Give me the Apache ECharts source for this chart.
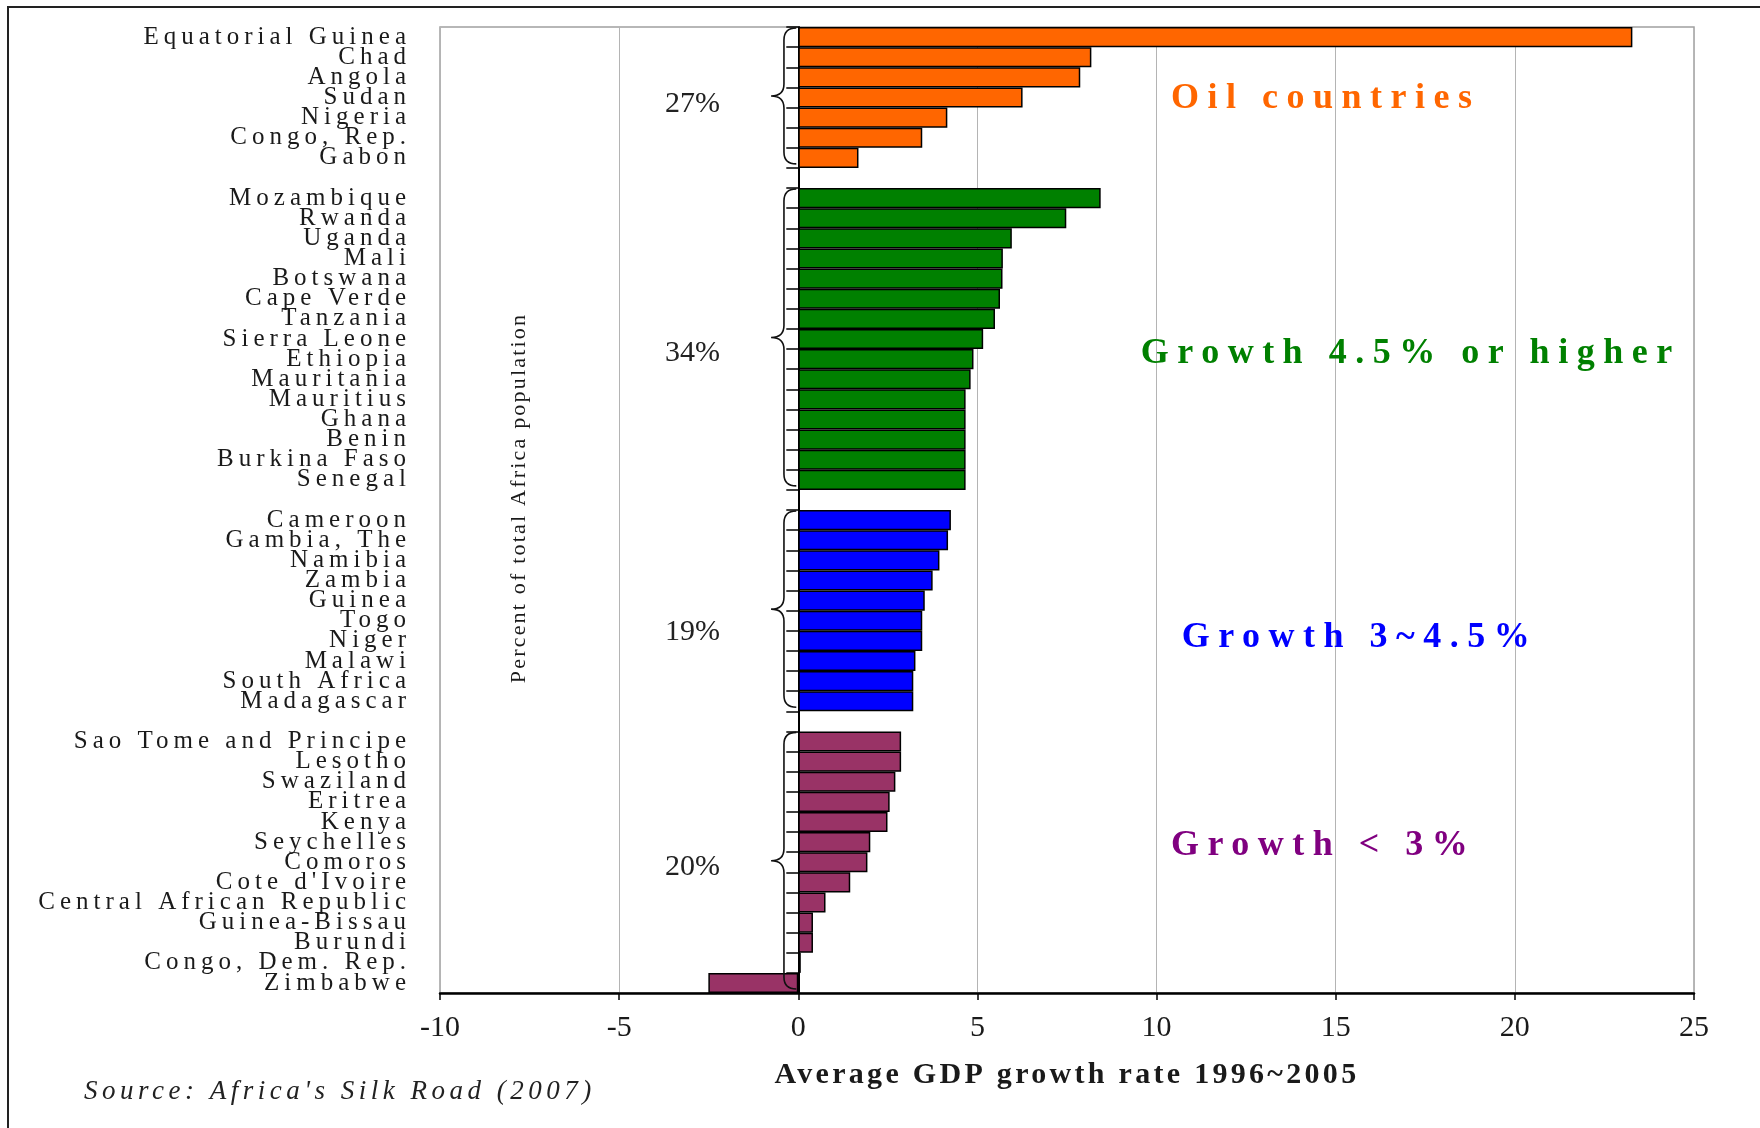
<!DOCTYPE html>
<html>
<head>
<meta charset="utf-8">
<title>Average GDP growth rate 1996~2005</title>
<script src="https://cdn.jsdelivr.net/npm/echarts@6.0.0/dist/echarts.min.js"></script>
<style>
  html, body { margin: 0; padding: 0; background: #fff; }
  #chart { width: 1760px; height: 1128px; }
</style>
</head>
<body>
<div id="chart"></div>
<script>
// groups of countries, top to bottom
const oilNames = ['Equatorial Guinea', 'Chad', 'Angola', 'Sudan', 'Nigeria', 'Congo, Rep.', 'Gabon']
const oilValues = [23.28, 8.18, 7.87, 6.26, 4.16, 3.46, 1.68]

const highNames = ['Mozambique', 'Rwanda', 'Uganda', 'Mali', 'Botswana', 'Cape Verde', 'Tanzania',
  'Sierra Leone', 'Ethiopia', 'Mauritania', 'Mauritius', 'Ghana', 'Benin', 'Burkina Faso', 'Senegal']
const highValues = [8.44, 7.48, 5.96, 5.71, 5.7, 5.63, 5.49, 5.16, 4.89, 4.81, 4.67, 4.67, 4.67, 4.67, 4.67]

const midNames = ['Cameroon', 'Gambia, The', 'Namibia', 'Zambia', 'Guinea', 'Togo', 'Niger',
  'Malawi', 'South Africa', 'Madagascar']
const midValues = [4.26, 4.18, 3.94, 3.75, 3.53, 3.46, 3.46, 3.27, 3.21, 3.21]

const lowNames = ['Sao Tome and Principe', 'Lesotho', 'Swaziland', 'Eritrea', 'Kenya', 'Seychelles',
  'Comoros', "Cote d'Ivoire", 'Central African Republic', 'Guinea-Bissau', 'Burundi',
  'Congo, Dem. Rep.', 'Zimbabwe']
const lowValues = [2.87, 2.87, 2.71, 2.55, 2.49, 2.01, 1.93, 1.45, 0.76, 0.41, 0.41, 0.07, -2.51]

const groupShares = ['27%', '34%', '19%', '20%']
const groupTitles = ['Oil countries', 'Growth 4.5% or higher', 'Growth 3~4.5%', 'Growth < 3%']

const xMin = -10
const xMax = 25
const xStep = 5

// styles
const FONT = '"Liberation Serif", "DejaVu Serif", serif'
const barColors = ['#FF6600', '#008000', '#0000FF', '#993366']
const titleColors = ['#FF6600', '#008000', '#0000FF', '#800080']
// the pdf print has very loose tracking: extra px between letters, by font size
const tracking = { 25: 5, 36: 8.5, 27: 4.5, 22: 2.2, bold30: 3.3 }
// where the notes sit: [x value, row] for the share and the group title
const shareLayout = [[-2.95, 3.35], [-2.95, 15.7], [-2.95, 29.55], [-2.95, 41.25]]
const titleLayout = [[10.4, 3.08], [9.56, 15.75], [10.7, 29.85], [10.4, 40.2]]

// canvas letter spacing, picked from the font the chart sets before each draw
const proto = CanvasRenderingContext2D.prototype
const drawText = proto.fillText
proto.fillText = function (text, x, y, maxW) {
  if ('letterSpacing' in this) {
    const m = /(\d+(?:\.\d+)?)px/.exec(this.font)
    const size = m ? Math.round(+m[1]) : 0
    const isBold = /bold|[6-9]00/.test(this.font)
    const sp = size === 30 ? (isBold ? tracking.bold30 : 0) : (tracking[size] || 0)
    this.letterSpacing = sp + 'px'
  }
  return maxW === undefined ? drawText.call(this, text, x, y) : drawText.call(this, text, x, y, maxW)
}

// build one category axis with a blank row between groups
const groups = [
  [oilNames, oilValues],
  [highNames, highValues],
  [midNames, midValues],
  [lowNames, lowValues]
]
const categories = []
const barData = []
const groupRanges = []
groups.forEach(([names, values], gi) => {
  if (gi > 0) {
    categories.push('')
    barData.push('-')
  }
  const start = categories.length
  names.forEach((n, i) => {
    categories.push(n)
    barData.push({ value: values[i], itemStyle: { color: barColors[gi] } })
  })
  groupRanges.push([0, start, categories.length - 1])
})

const chart = echarts.init(document.getElementById('chart'), null, { renderer: 'canvas' })

// brace, share and title for one group
const renderGroup = (params, api) => {
  const gi = params.dataIndex
  const start = api.value(1)
  const end = api.value(2)
  const y0 = api.coord([0, 0])[1]
  const band = api.coord([0, 1])[1] - y0
  const rowY = r => y0 + r * band
  const top = rowY(start) - band / 2 + 1
  const bot = rowY(end) + band / 2 - 4
  const mid = (top + bot) / 2
  const xe = api.coord([0, 0])[0] - 2
  const xs = api.coord([-0.4, 0])[0]
  const xt = api.coord([-0.76, 0])[0]
  const r = 12
  const d = `M${xe},${top} Q${xs},${top} ${xs},${top + r} L${xs},${mid - r} ` +
    `Q${xs},${mid} ${xt},${mid} Q${xs},${mid} ${xs},${mid + r} L${xs},${bot - r} ` +
    `Q${xs},${bot} ${xe},${bot}`
  const [sx, sr] = shareLayout[gi]
  const [tx, tr] = titleLayout[gi]
  return {
    type: 'group',
    children: [
      {
        type: 'path',
        shape: { pathData: d },
        style: { fill: 'none', stroke: '#111', lineWidth: 1.6 }
      },
      {
        type: 'text',
        x: api.coord([sx, 0])[0],
        y: rowY(sr),
        style: {
          text: groupShares[gi], fontFamily: FONT, fontSize: 30, fill: '#222',
          align: 'center', verticalAlign: 'middle'
        }
      },
      {
        type: 'text',
        x: api.coord([tx, 0])[0],
        y: rowY(tr),
        style: {
          text: groupTitles[gi], fontFamily: FONT, fontSize: 36, fontWeight: 'bold',
          fill: titleColors[gi], align: 'left', verticalAlign: 'middle'
        }
      }
    ]
  }
}

const option = {
  backgroundColor: '#fff',
  animation: false,
  grid: {
    left: 440,
    right: 66,
    top: 27,
    bottom: 135,
    show: true,
    borderColor: '#a0a0a0',
    borderWidth: 1.5,
    outerBoundsMode: 'none'
  },
  xAxis: {
    type: 'value',
    min: xMin,
    max: xMax,
    interval: xStep,
    position: 'bottom',
    axisLine: { show: true, onZero: false, lineStyle: { color: '#000', width: 2.5 } },
    axisTick: { show: true, length: 7, lineStyle: { color: '#000', width: 1.5 } },
    axisLabel: { fontFamily: FONT, fontSize: 30, color: '#1a1a1a', margin: 20 },
    splitLine: { show: true, lineStyle: { color: '#b4b4b4', width: 1 } },
    name: 'Average GDP growth rate 1996~2005',
    nameLocation: 'middle',
    nameGap: 67,
    nameTextStyle: { fontFamily: FONT, fontSize: 30, fontWeight: 'bold', color: '#1a1a1a' }
  },
  yAxis: [
    {
      // labels at the far left
      type: 'category',
      data: categories,
      inverse: true,
      position: 'left',
      axisLine: { show: false, onZero: false },
      axisTick: { show: false },
      axisLabel: { interval: 0, fontFamily: FONT, fontSize: 25, color: '#1a1a1a', margin: 29 },
      splitLine: { show: false }
    },
    {
      // line and ticks on zero
      type: 'category',
      data: categories,
      inverse: true,
      position: 'left',
      axisLine: { show: true, onZero: true, lineStyle: { color: '#000', width: 2 } },
      axisTick: { show: true, length: 12, lineStyle: { color: '#000', width: 1.5 } },
      axisLabel: { show: false },
      splitLine: { show: false }
    }
  ],
  series: [
    {
      type: 'bar',
      yAxisIndex: 0,
      barCategoryGap: '0%',
      data: barData,
      itemStyle: { borderColor: '#000', borderWidth: 1.5 },
      silent: true,
      z: 2
    },
    {
      type: 'custom',
      yAxisIndex: 0,
      data: groupRanges,
      encode: { x: 0, y: 1 },
      renderItem: renderGroup,
      silent: true,
      z: 5
    }
  ],
  graphic: [
    {
      type: 'rect',
      silent: true,
      shape: { x: 8, y: 7, width: 1800, height: 1200 },
      style: { fill: 'none', stroke: '#222', lineWidth: 2 }
    },
    {
      type: 'text',
      silent: true,
      x: 519,
      y: 498,
      rotation: Math.PI / 2,
      style: {
        text: 'Percent of total Africa population', fontFamily: FONT, fontSize: 22,
        fill: '#1a1a1a', align: 'center', verticalAlign: 'middle'
      }
    },
    {
      type: 'text',
      silent: true,
      x: 84,
      y: 1092,
      style: {
        text: "Source: Africa's Silk Road (2007)", fontFamily: FONT, fontSize: 27,
        fontStyle: 'italic', fill: '#222', align: 'left', verticalAlign: 'middle'
      }
    }
  ]
}

chart.setOption(option)
</script>
</body>
</html>
